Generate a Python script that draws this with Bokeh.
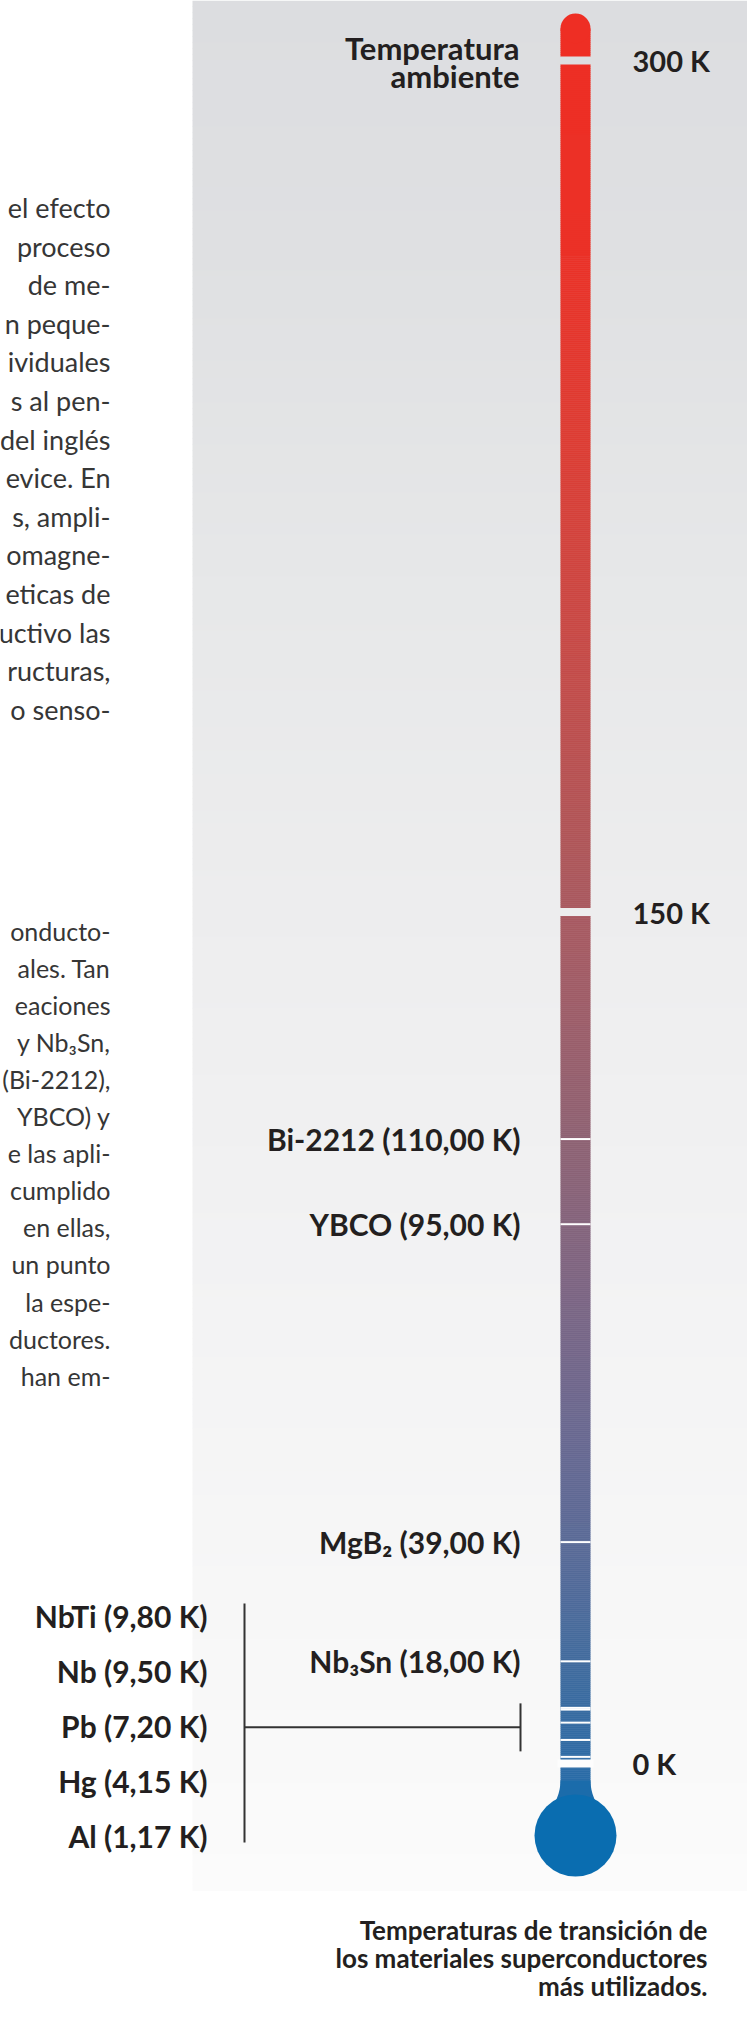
import numpy as np
from bokeh.plotting import figure
from bokeh.models import Range1d
from bokeh.core.properties import value
from bokeh.embed import file_html
from bokeh.resources import INLINE

# ---------------- data ----------------
scale_marks = [300, 150, 0]
scale_labels = ["300 K", "150 K", "0 K"]

upper_materials = ["Bi-2212 (110,00 K)", "YBCO (95,00 K)", "MgB₂ (39,00 K)", "Nb₃Sn (18,00 K)"]
upper_tc = [110.0, 95.0, 39.0, 18.0]

lower_materials = ["NbTi (9,80 K)", "Nb (9,50 K)", "Pb (7,20 K)", "Hg (4,15 K)", "Al (1,17 K)"]
lower_tc = [9.80, 9.50, 7.20, 4.15, 1.17]

ambient_label = ["Temperatura", "ambiente"]

caption_lines = ["Temperaturas de transición de",
                 "los materiales superconductores",
                 "más utilizados."]

para1 = ["el efecto", "proceso", "de me-", "n peque-", "ividuales", "s al pen-",
         "del inglés", "evice. En", "s, ampli-", "omagne-", "eticas de",
         "uctivo las", "ructuras,", "o senso-"]
para2 = ["onducto-", "ales. Tan", "eaciones", "y Nb₃Sn,", "(Bi-2212),", "YBCO) y",
         "e las apli-", "cumplido", "en ellas,", "un punto", "la espe-",
         "ductores.", "han em-"]

# ------------- layout (reference pixel units) -------------
W, H = 747, 2034
X0, Y0 = 0, 0
Y_300 = 60.0              # screen row of 300 K
Y_0 = 1763.0              # screen row of 0 K
PX_PER_K = (Y_0 - Y_300) / 300.0


def ky(Y):
    return (Y_0 - Y) / PX_PER_K


def kh(px):
    return px / PX_PER_K


def hex2rgb(h):
    h = h.lstrip("#")
    return np.array([int(h[i:i + 2], 16) for i in (0, 2, 4)], dtype=float)


def grad(stops, Y):
    ys = [s[0] for s in stops]
    cols = [hex2rgb(s[1]) for s in stops]
    Y = min(max(Y, ys[0]), ys[-1])
    for i in range(len(ys) - 1):
        if ys[i] <= Y <= ys[i + 1]:
            t = (Y - ys[i]) / (ys[i + 1] - ys[i]) if ys[i + 1] > ys[i] else 0
            c = cols[i] * (1 - t) + cols[i + 1] * t
            return "#%02x%02x%02x" % tuple(int(round(v)) for v in c)
    return stops[-1][1]


BG_STOPS = [(0, "#dcdde0"), (250, "#dfe0e2"), (600, "#e7e8e9"), (900, "#ededee"),
            (1250, "#f2f2f3"), (1600, "#f7f7f7"), (1890, "#fbfbfb")]
TUBE_STOPS = [(20, "#ee2e24"), (250, "#eb3127"), (450, "#dc3d34"), (650, "#c64a47"),
              (850, "#ae5659"), (934, "#a65a62"), (1155, "#8c6274"), (1283, "#7d6582"),
              (1427, "#6a6890"), (1553, "#586a97"), (1672, "#3f6b9e"), (1763, "#2d6ba5"),
              (1800, "#236ca9")]
BULB = "#0a6db0"
INK = "#231f20"

p = figure(width=W, height=H, x_range=Range1d(X0, X0 + W), y_range=Range1d(ky(Y0 + H), ky(Y0)),
           output_backend="svg", toolbar_location=None, x_axis_location=None, y_axis_location=None,
           min_border=0, min_border_left=0, min_border_right=0, min_border_top=0, min_border_bottom=0)
p.grid.visible = False
p.outline_line_color = None
p.background_fill_color = "white"
p.border_fill_color = "white"

# ---- grey panel with vertical fade ----
band = 6
ys = np.arange(0, 1890, band)
p.quad(left=192, right=760, top=[ky(y) for y in ys], bottom=[ky(y + band + 0.6) for y in ys],
       fill_color=[grad(BG_STOPS, y + band / 2) for y in ys], line_color=None)

# ---- thermometer tube ----
tb = 2
ts = np.arange(28, 1792, tb)
p.quad(left=560, right=590, top=[ky(y) for y in ts], bottom=[ky(y + tb + 0.4) for y in ts],
       fill_color=[grad(TUBE_STOPS, y + tb / 2) for y in ts], line_color=None)
p.scatter(x=[575], y=[ky(28)], size=30, marker="circle", fill_color=TUBE_STOPS[0][1], line_color=None)

# bulb + neck
neck_y = np.linspace(1780, 1815, 20)
neck_w = 15 + 14 * ((neck_y - 1780) / 35.0) ** 2
px = list(575 - neck_w) + list((575 + neck_w)[::-1])
py = [ky(y) for y in neck_y] + [ky(y) for y in neck_y[::-1]]
p.patch(x=px, y=py, fill_color="#1b6cab", line_color=None)
p.scatter(x=[575], y=[ky(1835)], size=82, marker="circle", fill_color=BULB, line_color=None)

# ---- scale gaps (300, 150, 0 K) ----
gap_cols = []
for m in scale_marks:
    Yr = Y_0 - m * PX_PER_K
    c = grad(BG_STOPS, Yr) if m > 0 else "#fdfdfd"
    gap_cols.append(c)
p.quad(left=557, right=593, top=[m + kh(4) for m in scale_marks], bottom=[m - kh(4) for m in scale_marks],
       fill_color=gap_cols, line_color=None)

# ---- material ticks ----
all_tc = upper_tc + lower_tc
p.segment(x0=[560] * len(all_tc), x1=[590] * len(all_tc), y0=all_tc, y1=all_tc,
          line_color="white", line_width=2)

# ---- scale labels ----
p.text(x=[632] * 3, y=scale_marks, text=scale_labels, text_align="left", text_baseline="middle",
       text_font=value("Lato"), text_font_size=value("29px"), text_font_style="bold", text_color=INK)

p.text(x=[519, 519], y=[300 + kh(13), 300 - kh(15)], text=ambient_label, text_align="right",
       text_baseline="middle", text_font=value("Lato"), text_font_size=value("31px"),
       text_font_style="bold", text_color=INK)

# ---- material labels near tube ----
p.text(x=[520] * len(upper_tc), y=upper_tc, text=upper_materials, text_align="right",
       text_baseline="middle", text_font=value("Lato"), text_font_size=value("30px"),
       text_font_style="bold", text_color=INK)

# ---- low-temperature group + bracket ----
ly = [ky(1615 + 55 * i) for i in range(len(lower_materials))]
p.text(x=[207] * len(lower_materials), y=ly, text=lower_materials, text_align="right",
       text_baseline="middle", text_font=value("Lato"), text_font_size=value("30px"),
       text_font_style="bold", text_color=INK)
mid = float(np.mean(lower_tc))
p.segment(x0=[244, 244, 520], x1=[244, 520, 520],
          y0=[ky(1603), mid, mid + kh(24)], y1=[ky(1842), mid, mid - kh(24)],
          line_color="#333333", line_width=2)

# ---- body text (clipped columns) ----
p.text(x=[110] * len(para1), y=[ky(207 + 38.6 * i) for i in range(len(para1))], text=para1,
       text_align="right", text_baseline="middle", text_font=value("Lato"),
       text_font_size=value("27px"), text_color="#363636")
p.text(x=[110] * len(para2), y=[ky(930 + 37.1 * i) for i in range(len(para2))], text=para2,
       text_align="right", text_baseline="middle", text_font=value("Lato"),
       text_font_size=value("25px"), text_color="#363636")

# ---- caption ----
p.text(x=[707] * 3, y=[ky(1929 + 28 * i) for i in range(3)], text=caption_lines,
       text_align="right", text_baseline="middle", text_font=value("Lato"),
       text_font_size=value("26px"), text_font_style="bold", text_color=INK)

open("out.html", "w").write(file_html(p, INLINE, title="Temperaturas de transición"))
